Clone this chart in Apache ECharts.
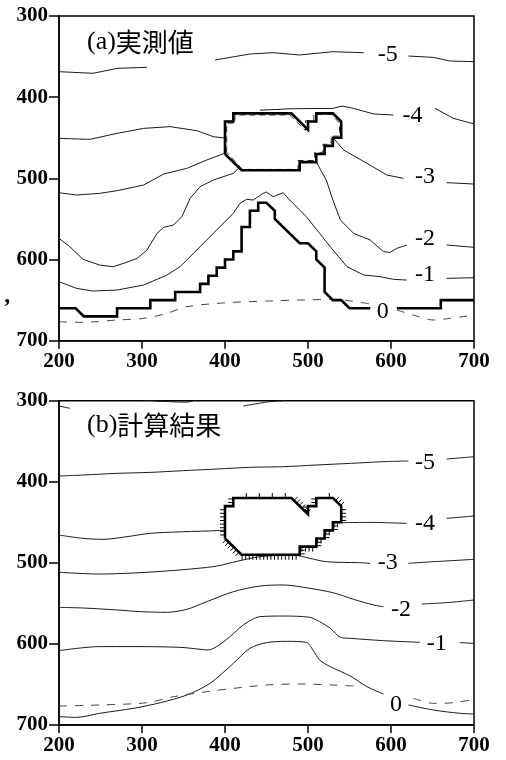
<!DOCTYPE html>
<html><head><meta charset="utf-8">
<script src="https://cdn.jsdelivr.net/npm/echarts@6/dist/echarts.min.js"></script>
<style>html,body{margin:0;padding:0;background:#fff}#c{width:506px;height:760px}</style>
</head><body><div id="c"></div><script>
// ---- axis ticks ----
const xTicks = [200, 300, 400, 500, 600, 700];
const yTicks = [300, 400, 500, 600, 700];
const titles = [['(a)', '実測値'], ['(b)', '計算結果']];

// ---- (a) measured: contour lines (null = gap) ----
const measM5 = [[200,368.6],[241,370.6],[270,364.5],[306,363.2],null,[388,354.2],[430,346.8],[458,345.2],[490,348],[530,344],[567,345.2],null,[621,349.3],[651,351],[671,355.4],[700,356.3]];
const measM4 = [[200,450.7],[237,452],[270,444.6],[302,438.4],[334,436.3],[366,441.3],[386,448.7],[401,450.5],null,[442,416],[482,414.2],[530,413.8],[541,410.9],[555,413.8],[579,420.7],[603,422],null,[653,413.8],[675,426],[700,433]];
const measM3 = [[200,517.7],[221,520.5],[249,518.5],[270,515.2],[302,508.2],[326,494.7],[354,487.7],[378,477.4],[400,469],null,[531,451],[543,465.1],[571,481.5],[595,495.9],[615,500],null,[667,505.3],[700,507]];
const measM2 = [[200,573.9],[213,584.2],[229,599.8],[249,606.8],[265,608.8],[278,604.7],[294,598.6],[306,588.3],[318,567.8],[326,560.4],[338,557.5],[348,547.2],[358,524.6],[370,510.3],[386,502],[410,493.8],[418,486],null,[510,480],[522,502],[530,526.7],[539,551.3],[555,567.8],[575,576],[591,590.3],[599,591.2],[607,586.2],[619,582.1],null,[667,582.1],[700,585]];
const measM1 = [[200,627.3],[221,635.5],[241,638.8],[270,637.6],[302,631.4],[330,619.1],[346,608.8],[362,592.4],[378,576],[394,559.5],[410,543.1],[418,530.8],[426,525.9],[434,526.7],[446,518.5],[450,516.8],[458,522.6],[470,517.7],[478,526.7],[498,547.2],[514,567.8],[530,588.3],[547,608.8],[567,619.1],[587,621.1],[603,624.4],[619,625.3],null,[667,623.2],[700,622.4]];
const measZero = [[200,660],[220,660],[230,670],[270,670],[270,660],[310,660],[310,650],[340,650],[340,640],[370,640],[370,630],[380,630],[380,620],[390,620],[390,610],[400,610],[400,600],[410,600],[410,590],[420,590],[420,560],[430,560],[430,540],[440,540],[440,530],[450,530],[460,540],[460,550],[490,580],[500,580],[510,590],[510,600],[520,610],[520,640],[530,650],[540,650],[550,660],[575,660],null,[607,660],[660,660],[660,650],[700,650]];
const measDash = [[200,676.6],[229,677.4],[270,674.5],[302,672.5],[330,666.3],[354,658.1],[402,653.2],[450,651.2],[490,649.9],[530,649.1],[575,654.8],null,[607,662.2],[627,668.4],[651,674.5],[671,672.5],[700,668.4]];
const measBlock = [[400,470],[400,430],[410,430],[410,420],[480,420],[500,440],[500,430],[510,430],[510,420],[530,420],[540,430],[540,450],[530,450],[530,460],[520,460],[520,470],[510,470],[510,480],[490,480],[490,490],[420,490],[400,470]];
const measBlockDash = [[402,468],[402,432],[412,432],[412,422],[478,422],[497,441],[497,429],[507,429],[507,421],[528,421],[538,432],[538,448],[528,448],[528,458],[518,458],[518,468],[508,468],[508,478],[488,478],[488,489],[421,489],[402,468]];
const measLabels = [[596,347,'-5'],[626,421,'-4'],[641,497,'-3'],[641,573,'-2'],[641,618,'-1'],[590,663,'0']];

// ---- (b) computed ----
const calcM6 = [[200,306.5],[213,309.4],null,[300,299],[325,300.8],[354,301.8],[365,299],null,[422,306.5],[454,301.2],[470,300],[480,298]];
const calcM5 = [[200,392.9],[229,391.7],[270,389.6],[310,388.4],[350,386.3],[390,384.3],[430,382.2],[470,381.4],[510,379.3],[551,377.3],[591,375.2],[621,374.4],null,[667,371.9],[700,369.1]];
const calcM4 = [[200,465.7],[229,469.8],[253,471],[282,467.7],[310,463.6],[350,461.6],[390,460.3],[401,459.5],null,[539,450.5],[571,450.1],[619,451.3],null,[667,445.1],[700,442.2]];
const calcM3 = [[200,511.7],[249,513.8],[290,512.5],[330,510],[365,507],[390,504],[415,498],[442,492.4],[470,490.5],[482,490.3],[502,494.4],[522,498.6],[562,499.8],[575,500.6],null,[621,500.6],[651,498.6],[700,495.7]];
const calcM2 = [[200,554.9],[229,555.7],[270,558.1],[298,560.2],[330,561],[354,557.3],[378,547.9],[410,535.6],[442,528.6],[470,527.3],[502,531.4],[530,536.8],[555,545],[579,552],[591,554.1],null,[637,550.8],[667,549.1],[700,545.8]];
const calcM1 = [[200,608.3],[249,603.3],[290,603.3],[346,604.2],[370,606.6],[380,607.5],[390,603.3],[406,591.1],[422,576.7],[442,566.4],[470,565.6],[502,567.2],[514,572.6],[527,580.8],[539,591.9],[551,593.1],[591,596],[635,598],null,[683,598.4],[700,599.3]];
const calcZero = [[200,689.7],[221,690.6],[249,685.6],[290,679.4],[322,672.5],[354,663],[382,648.6],[410,624],[430,605.4],[450,598.5],[474,596.8],[498,598],[506,607.5],[514,619.8],[527,628.1],[551,639.6],[571,652.7],[591,661.8],null,[621,675.3],[651,681.5],[683,685.6],[700,686.4]];
const calcDash = [[200,676.6],[249,675.3],[306,672.5],[338,665.1],[378,658.9],[410,654.8],[450,650.7],[490,649.4],[530,650.7],[555,651.9],null,[627,667.1],[651,673.3],[675,672.5],[700,668.4]];
const calcBlock = [[400,470],[400,430],[410,430],[410,420],[480,420],[500,440],[500,430],[510,430],[510,420],[530,420],[540,430],[540,450],[530,450],[530,460],[520,460],[520,470],[510,470],[510,480],[490,480],[490,490],[420,490],[400,470]];
const calcLabels = [[641,375,'-5'],[641,451,'-4'],[596,498,'-3'],[612,556,'-2'],[655,599,'-1'],[606,674,'0']];

// ---- build ----
const chart = echarts.init(document.getElementById('c'), null, {renderer: 'canvas'});
const SERIF = 'Liberation Serif';

function splitSegs(arr) {
  const out = []; let cur = [];
  arr.forEach(p => { if (p === null) { if (cur.length) out.push(cur); cur = []; } else cur.push(p); });
  if (cur.length) out.push(cur);
  return out;
}
const series = [];
function addLine(arr, gi, style, smooth) {
  splitSegs(arr).forEach(seg => series.push({
    type: 'line', xAxisIndex: gi, yAxisIndex: gi, data: seg, showSymbol: false, symbol: 'none',
    smooth: smooth || false, clip: true, silent: true, animation: false, lineStyle: style, z: style.width > 2 ? 4 : 3
  }));
}
const thin = {color: '#1a1a1a', width: 1};
const thick = {color: '#000', width: 2.6, join: 'miter'};
const dashed = {color: '#444', width: 1, type: [8, 8]};
const dashedBlock = {color: '#333', width: 1, type: [6, 4]};

[measM5, measM4, measM3, measM2, measM1].forEach(a => addLine(a, 0, thin, false));
addLine(measDash, 0, dashed, 0.3);
addLine(measBlockDash, 0, dashedBlock, false);
addLine(measZero, 0, thick, false);
addLine(measBlock, 0, thick, false);

[calcM6, calcM5, calcM4, calcM3, calcM2, calcM1, calcZero].forEach(a => addLine(a, 1, thin, 0.3));
addLine(calcDash, 1, dashed, 0.3);
addLine(calcBlock, 1, thick, false);

// hatch ticks on the outward side of the computed block outline
series.push({
  type: 'custom', xAxisIndex: 1, yAxisIndex: 1, data: [[0, 0]], silent: true, animation: false, z: 5,
  renderItem: function (params, api) {
    const pts = calcBlock.map(p => api.coord(p));
    const children = [];
    for (let i = 0; i < pts.length - 1; i++) {
      const [x1, y1] = pts[i], [x2, y2] = pts[i + 1];
      const dx = x2 - x1, dy = y2 - y1, L = Math.hypot(dx, dy);
      const nx = dy / L, ny = -dx / L;
      const step = ny < -0.9 ? 13 : 3.6;
      const n = Math.floor(L / step);
      for (let k = 1; k <= n; k++) {
        const t = k * step / L;
        if (t >= 0.999) continue;
        const px = x1 + dx * t, py = y1 + dy * t;
        children.push({type: 'line', shape: {x1: px, y1: py, x2: px + nx * 5, y2: py + ny * 5},
          style: {stroke: '#000', lineWidth: 1}});
      }
    }
    return {type: 'group', children: children};
  }
});

// contour value labels, placed through the axes
function addLabels(arr, gi) {
  series.push({
    type: 'custom', xAxisIndex: gi, yAxisIndex: gi, silent: true, animation: false, z: 6,
    data: arr.map(a => [a[0], a[1]]),
    renderItem: function (params, api) {
      const p = api.coord([api.value(0), api.value(1)]);
      return {type: 'text', x: p[0], y: p[1] + 1, style: {
        text: arr[params.dataIndex][2], fill: '#000', fontFamily: SERIF, fontSize: 24,
        align: 'center', verticalAlign: 'middle'}};
    }
  });
}
addLabels(measLabels, 0);
addLabels(calcLabels, 1);

const grids = [
  {left: 59, right: 32, top: 16, height: 324.7},
  {left: 59, right: 32, top: 400.7, height: 324.3}
].map(g => Object.assign(g, {show: true, borderColor: '#000', borderWidth: 1.5, backgroundColor: 'transparent'}));

const axisLineStyle = {color: '#000', width: 1.5};
const labelStyle = {fontFamily: SERIF, fontWeight: 'bold', fontSize: 21, color: '#000'};
const xAxes = [0, 1].map(i => ({
  type: 'value', gridIndex: i, min: xTicks[0], max: xTicks[xTicks.length - 1], interval: xTicks[1] - xTicks[0],
  axisLine: {show: true, onZero: false, lineStyle: axisLineStyle},
  axisTick: {show: true, length: 8, lineStyle: axisLineStyle},
  axisLabel: Object.assign({margin: 10}, labelStyle),
  splitLine: {show: false}
}));
const yAxes = [0, 1].map(i => ({
  type: 'value', gridIndex: i, inverse: true, min: yTicks[0], max: yTicks[yTicks.length - 1], interval: yTicks[1] - yTicks[0],
  axisLine: {show: true, onZero: false, lineStyle: axisLineStyle},
  axisTick: {show: true, length: 10, lineStyle: axisLineStyle},
  axisLabel: Object.assign({margin: 11}, labelStyle),
  splitLine: {show: false}
}));

const graphic = titles.map((t, i) => ({
  type: 'text', left: 87, top: i === 0 ? 29 : 412, z: 10, silent: true,
  style: {
    text: '{s|' + t[0] + '}{c|' + t[1] + '}',
    rich: {
      s: {fontFamily: SERIF, fontSize: 26, fill: '#000', verticalAlign: 'bottom'},
      c: {fontFamily: 'Noto Sans CJK JP', fontSize: 26, fill: '#000', verticalAlign: 'bottom'}
    }
  }
}));
graphic.push({type: 'text', left: 3, top: 296, silent: true,
  style: {text: '\u2019', fontFamily: SERIF, fontWeight: 'bold', fontSize: 24, fill: '#000'}});

chart.setOption({
  animation: false,
  backgroundColor: '#fff',
  grid: grids,
  xAxis: xAxes,
  yAxis: yAxes,
  series: series,
  graphic: graphic
});
</script></body></html>
